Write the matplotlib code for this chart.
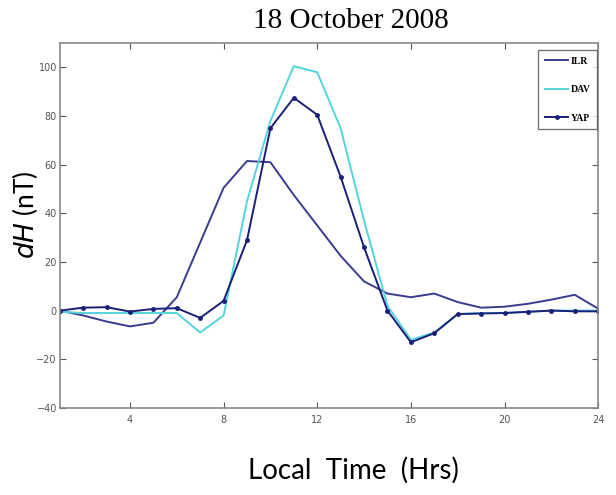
import matplotlib.pyplot as plt

# data ---------------------------------------------------------------------
hours = list(range(1, 25))
ilr = [0, -2, -4.5, -6.5, -5, 5.5, 28, 50.5, 61.5, 61, 47.5, 35,
       22.5, 12, 7, 5.5, 7, 3.5, 1.2, 1.6, 2.8, 4.5, 6.5, 0.8]
dav = [-0.5, -1, -1, -1, -1, -1, -9, -2, 45, 78, 100.5, 98,
       75, 37, 2, -12, -9, -1.5, -1, -1, -0.5, 0, 0, 0]
yap = [0, 1.2, 1.4, -0.4, 0.7, 1, -3, 4, 29, 75, 87.5, 80.5,
       55, 26, 0, -13, -9.3, -1.4, -1.2, -1, -0.5, 0, -0.3, -0.3]
xticks = [4, 8, 12, 16, 20, 24]
yticks = [-40, -20, 0, 20, 40, 60, 80, 100]

# plot ---------------------------------------------------------------------
fig = plt.figure(figsize=(6.16, 4.95), dpi=100)
ax = fig.add_axes([0.097, 0.176, 0.874, 0.737])

ax.plot(hours, ilr, color='#3b3b8f', lw=1.4, label='ILR')
ax.plot(hours, dav, color='#55d4dc', lw=1.4, label='DAV')
ax.plot(hours, yap, color='#1a1f78', lw=1.4, marker='.', ms=5, label='YAP')

ax.set_xlim(1, 24)
ax.set_ylim(-40, 110)
ax.set_xticks(xticks)
ax.set_yticks(yticks)
ax.tick_params(direction='in', top=True, right=True, labelsize=7,
               colors='#555555', length=4, width=0.8, pad=5)
ax.tick_params(axis='y', pad=2)
for s in ax.spines.values():
    s.set_color('#888888')
    s.set_linewidth(1.2)

leg = ax.legend(loc='upper right', bbox_to_anchor=(0.998, 0.981), borderaxespad=0,
                prop={'family': 'Liberation Serif', 'size': 7, 'weight': 'bold'},
                fancybox=False, edgecolor='#555555', handlelength=2.4,
                handletextpad=0.2, labelspacing=2.0, borderpad=0.7)
leg.get_frame().set_linewidth(1.0)

ax.set_title('18 October 2008', fontfamily='Liberation Serif', fontsize=21,
             x=0.54, y=1.041, pad=0)
ax.set_xlabel('Local  Time  (Hrs)', fontfamily='Lato', fontsize=20)
ax.xaxis.set_label_coords(0.545, -0.135)
ax.set_ylabel('$dH$ (nT)', fontfamily='Lato', fontsize=19)
ax.yaxis.set_label_coords(-0.037, 0.529)

fig.savefig('out.png', dpi=100)
